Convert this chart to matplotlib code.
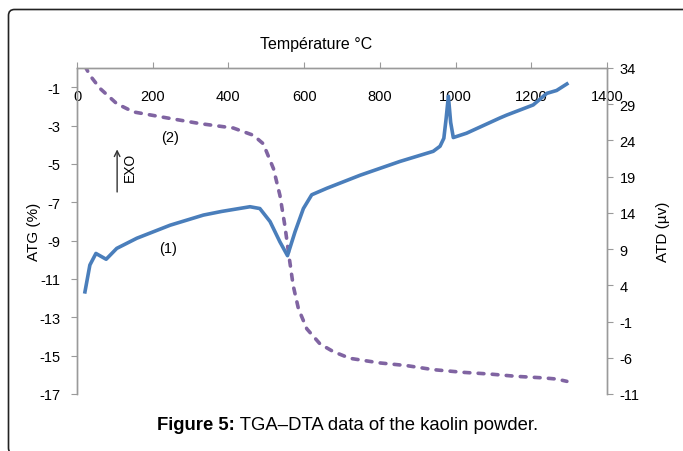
import matplotlib
matplotlib.use("Agg")
import matplotlib.pyplot as plt
from matplotlib.patches import FancyBboxPatch
from matplotlib.transforms import IdentityTransform

plt.rcParams["font.family"] = ["Liberation Sans", "DejaVu Sans"]
plt.rcParams["axes.unicode_minus"] = False

# DTA signal (blue, right axis, µv)
dta_temp = [21, 34, 50, 77, 105, 158, 246, 334, 382, 457, 483, 510, 536, 556,
            576, 598, 620, 660, 748, 853, 941, 959, 969, 975, 981, 987, 994,
            1029, 1117, 1135, 1205, 1241, 1267, 1294]
dta_val = [3.1, 6.8, 8.4, 7.6, 9.1, 10.5, 12.3, 13.7, 14.2, 14.85, 14.6, 12.8,
           10.0, 8.1, 11.4, 14.6, 16.5, 17.4, 19.2, 21.1, 22.5, 23.2, 24.3,
           27.0, 30.1, 26.5, 24.4, 25.0, 27.1, 27.5, 28.9, 30.5, 30.9, 31.8]

# TGA mass loss (purple dashed, left axis, %)
tga_temp = [21, 34, 61, 105, 149, 237, 325, 413, 466, 492, 519, 536, 549, 561,
            571, 585, 607, 642, 677, 721, 800, 871, 941, 1020, 1091, 1161,
            1232, 1267, 1294]
tga_val = [0.1, -0.38, -1.07, -1.86, -2.29, -2.6, -2.9, -3.13, -3.51, -3.95,
           -5.25, -6.64, -8.21, -9.95, -11.34, -12.56, -13.6, -14.39, -14.79,
           -15.14, -15.38, -15.52, -15.73, -15.87, -15.96, -16.08, -16.16,
           -16.22, -16.34]

x_ticks = [0, 200, 400, 600, 800, 1000, 1200, 1400]
left_ticks = [-17, -15, -13, -11, -9, -7, -5, -3, -1]
right_ticks = [-11, -6, -1, 4, 9, 14, 19, 24, 29, 34]

W, H = 683, 452
fig = plt.figure(figsize=(W / 100, H / 100), dpi=100)
ax = fig.add_axes([77 / W, 1 - 395 / H, 530 / W, 326 / H])
ax2 = ax.twinx()

grey = "#9a9a9a"
ax2.plot(dta_temp, dta_val, color="#4a7ebb", lw=2.6, solid_joinstyle="round")
ax.plot(tga_temp, tga_val, color="#8064a2", lw=2.6, dashes=(1.6, 2.3),
        dash_capstyle="round")

ax.set_xlim(0, 1400)
ax.set_ylim(-17, 0)
ax2.set_ylim(-11, 34)
ax.set_xticks(x_ticks)
ax.set_yticks(left_ticks)
ax2.set_yticks(right_ticks)

for a in (ax, ax2):
    a.spines["bottom"].set_visible(False)
    for s in ("top", "left", "right"):
        a.spines[s].set_color(grey)
        a.spines[s].set_linewidth(1.0)
ax.tick_params(axis="x", top=True, bottom=False, labeltop=True, labelbottom=False,
               direction="out", length=4, color=grey, pad=-29, labelsize=10.5)
ax.tick_params(axis="y", direction="out", length=4, color=grey, pad=8, labelsize=10.5)
ax2.tick_params(axis="y", direction="out", length=4, color=grey, pad=5, labelsize=10.5)

ax.set_ylabel("ATG (%)", fontsize=11, labelpad=-1)
ax2.set_ylabel("ATD (µv)", fontsize=11, labelpad=12)

ax.text(246, -3.58, "(2)", fontsize=10.5, ha="center", va="center")
ax.text(240, -9.38, "(1)", fontsize=10.5, ha="center", va="center")
ax.annotate("", xy=(106, -4.1), xytext=(106, -6.61),
            arrowprops=dict(arrowstyle="->", color="#333333", lw=1))
ax.text(140, -5.15, "EXO", rotation=90, fontsize=10, ha="center", va="center")

fig.text(316 / W, 1 - 45 / H, "Température °C", fontsize=11.5, ha="center", va="center")

cap = fig.text(157 / W, 1 - 426 / H, "Figure 5:", fontsize=13.3, weight="bold",
               ha="left", va="center")
ax.annotate(" TGA–DTA data of the kaolin powder.", xy=(1, 0), xycoords=cap,
            fontsize=13.3, ha="left", va="bottom", annotation_clip=False)

frame = FancyBboxPatch((8.5, -3), 700, 444.5, boxstyle="round,pad=0,rounding_size=6",
                       transform=IdentityTransform(), fill=False,
                       edgecolor="#222222", lw=1.2)
fig.patches.append(frame)

fig.savefig("out.png", dpi=100)
